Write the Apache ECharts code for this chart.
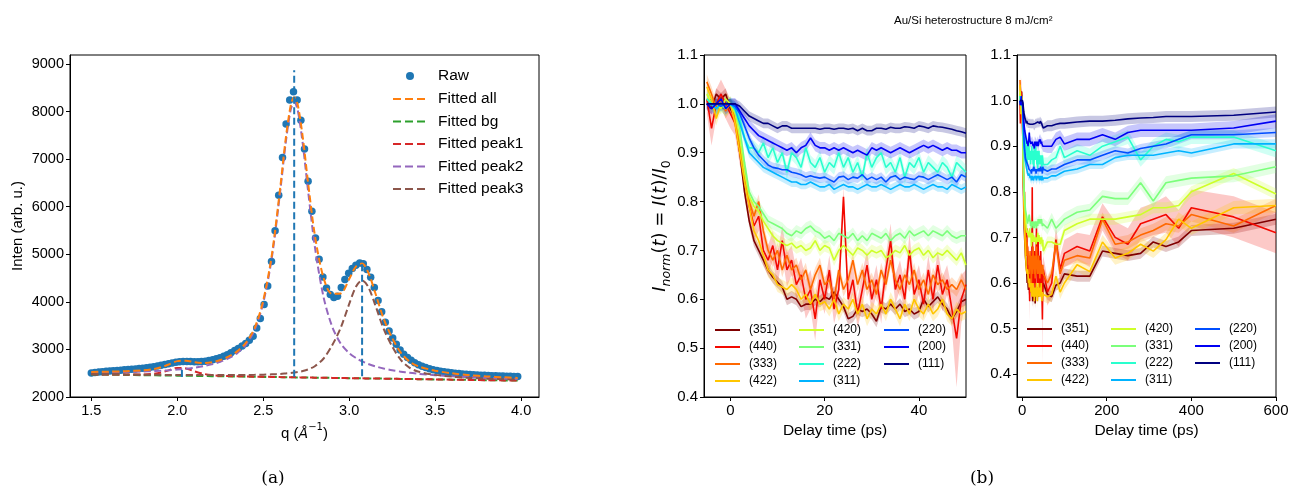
<!DOCTYPE html>
<html><head><meta charset="utf-8">
<script src="https://cdn.jsdelivr.net/npm/echarts@6/dist/echarts.min.js"></script>
<style>html,body{margin:0;padding:0;background:#fff}#c{width:1305px;height:492px}</style>
</head><body><div id="c"></div>
<script>
// ---------------- Panel (a): diffraction profile ----------------
const qRaw = [1.500,1.521,1.543,1.564,1.586,1.607,1.628,1.650,1.671,1.692,1.714,1.735,1.757,1.778,1.799,1.821,1.842,1.863,1.885,1.906,
1.928,1.949,1.970,1.992,2.013,2.034,2.056,2.077,2.099,2.120,2.141,2.163,2.184,2.206,2.227,2.248,2.270,2.291,2.312,2.334,
2.355,2.377,2.398,2.419,2.441,2.462,2.483,2.505,2.526,2.548,2.569,2.590,2.612,2.633,2.654,2.676,2.697,2.719,2.740,2.761,
2.783,2.804,2.825,2.847,2.868,2.890,2.911,2.932,2.954,2.975,2.997,3.018,3.039,3.061,3.082,3.103,3.125,3.146,3.168,3.189,
3.210,3.232,3.253,3.274,3.296,3.317,3.339,3.360,3.381,3.403,3.424,3.445,3.467,3.488,3.510,3.531,3.552,3.574,3.595,3.616,
3.638,3.659,3.681,3.702,3.723,3.745,3.766,3.787,3.809,3.830,3.852,3.873,3.894,3.916,3.937,3.958,3.980];
const rawInten = [2505,2515,2525,2533,2540,2547,2553,2559,2565,2571,2577,2583,2590,2597,2605,2614,2624,2636,2650,2665,
2682,2700,2716,2730,2740,2745,2746,2744,2742,2742,2746,2754,2766,2782,2802,2826,2856,2890,2930,2978,
3020,3070,3125,3195,3277,3452,3650,3944,4336,4849,5493,6244,7037,7737,8242,8417,8242,7820,7212,6538,
5907,5345,4897,4525,4293,4154,4091,4120,4302,4470,4600,4700,4770,4815,4800,4680,4520,4300,4030,3790,
3570,3390,3240,3110,2990,2900,2830,2770,2720,2680,2645,2618,2595,2575,2558,2543,2530,2519,2509,2500,
2492,2485,2479,2473,2468,2463,2459,2455,2451,2448,2445,2442,2440,2437,2435,2433,2431];
const qFit = [1.5,1.6,1.7,1.8,1.85,1.9,1.95,2.0,2.05,2.1,2.15,2.2,2.25,2.3,2.35,2.4,2.45,2.5,2.55,2.6,2.63,2.66,2.68,2.7,2.73,
2.76,2.8,2.85,2.9,2.95,3.0,3.04,3.075,3.11,3.15,3.2,3.25,3.3,3.35,3.4,3.5,3.6,3.7,3.8,3.9,3.98];
const fitAll = [2527,2532,2543,2560,2580,2619,2683,2754,2764,2730,2714,2731,2777,2853,2964,3144,3452,4029,4989,6436,7405,8135,8304,8155,7457,
6530,5407,4514,4169,4176,4481,4748,4808,4626,4207,3649,3241,2933,2748,2649,2553,2497,2459,2433,2414,2402];
const fitBg = [2475,2470,2465,2459,2457,2454,2451,2449,2446,2444,2441,2438,2436,2433,2430,2428,2425,2423,2420,2417,2416,2414,2413,2412,2411,
2409,2407,2404,2402,2399,2396,2394,2392,2391,2389,2386,2383,2381,2378,2375,2370,2365,2360,2354,2349,2345];
const fitPeak1 = [2477,2473,2472,2473,2483,2510,2560,2612,2601,2540,2489,2461,2447,2441,2436,2433,2428,2425,2422,2418,2417,2415,2414,2413,2412,
2410,2407,2404,2402,2399,2396,2394,2392,2391,2389,2386,2383,2381,2378,2375,2370,2365,2360,2354,2349,2345];
const fitPeak2 = [2518,2521,2527,2536,2543,2551,2561,2576,2593,2616,2646,2686,2741,2817,2926,3103,3408,3980,4930,6367,7326,8044,8203,8042,7321,
6359,5167,4114,3489,3126,2921,2818,2748,2696,2647,2599,2561,2533,2508,2489,2458,2435,2417,2401,2389,2381];
const fitPeak3 = [2482,2478,2474,2469,2468,2466,2464,2464,2462,2462,2461,2460,2461,2461,2462,2464,2466,2470,2477,2485,2494,2504,2513,2524,2546,
2579,2647,2804,3082,3449,3956,4324,4452,4321,3949,3436,3063,2781,2618,2535,2465,2427,2402,2386,2374,2366];
const peakPos = [2.027, 2.680, 3.075];
const peakLineLow = [2420, 2425, 2435];
const peakLineHigh = [2630, 8870, 4810];
const fitNames = ['Fitted all','Fitted bg','Fitted peak1','Fitted peak2','Fitted peak3'];
const qTicks = [1.5,2.0,2.5,3.0,3.5,4.0];
const intenTicks = [2000,3000,4000,5000,6000,7000,8000,9000];

// ---------------- Panel (b): normalized intensities ----------------
const hkl = ['(351)','(440)','(333)','(422)','(420)','(331)','(222)','(311)','(220)','(200)','(111)'];
const tShort = [-5,-4,-3,-2,-1,0,1,2,3,4,5,6,7,8,9,10,11,12,13,14,15,16,17,18,19,20,21,22,23,24,25,26,27,28,29,30,31,32,33,34,35,36,37,38,39,40,41,42,43,44,45,46,47,48,49,50];
const short351 = [1.00,0.99,1.02,1.01,1.02,0.99, 0.97,0.90,0.82,0.76,0.72,0.70,0.68,0.66,0.645,0.635, 0.625,0.60,0.605,0.60,0.585,0.59,0.59,0.60,0.595,0.605, 0.60,0.615,0.60,0.585,0.56,0.565,0.58,0.575,0.58,0.57, 0.555,0.585,0.58,0.59,0.58,0.59,0.575,0.58,0.57,0.575, 0.60,0.585,0.595,0.605,0.59,0.58,0.56,0.575,0.595,0.60];
const short440 = [1.01,0.95,1.00,1.02,1.00,0.98, 0.96,0.90,0.85,0.79,0.75,0.77,0.70,0.68,0.71,0.66, 0.72,0.66,0.68,0.63,0.65,0.60,0.62,0.56,0.64,0.60, 0.66,0.58,0.62,0.81,0.60,0.64,0.57,0.62,0.67,0.60, 0.64,0.58,0.66,0.72,0.62,0.65,0.60,0.70,0.61,0.64, 0.59,0.66,0.60,0.67,0.61,0.64,0.58,0.52,0.60,0.63];
const short333 = [1.045,1.02,0.99,1.01,0.985,1.00, 0.97,0.92,0.86,0.80,0.77,0.80,0.74,0.70,0.68,0.70, 0.66,0.69,0.66,0.67,0.64,0.66,0.62,0.65,0.67,0.63, 0.64,0.60,0.66,0.62,0.64,0.68,0.63,0.66,0.62,0.64, 0.61,0.66,0.63,0.68,0.64,0.62,0.65,0.63,0.66,0.62, 0.64,0.61,0.65,0.63,0.64,0.62,0.63,0.62,0.64,0.62];
const short422 = [1.035,1.01,0.97,1.00,0.99,1.00, 0.96,0.90,0.84,0.79,0.74,0.72,0.69,0.66,0.65,0.63, 0.625,0.62,0.63,0.62,0.60,0.61,0.59,0.61,0.59,0.595, 0.58,0.60,0.57,0.59,0.58,0.60,0.57,0.59,0.56,0.58, 0.57,0.59,0.57,0.60,0.58,0.56,0.59,0.57,0.60,0.58, 0.57,0.59,0.57,0.58,0.60,0.57,0.56,0.58,0.57,0.575];
const short420 = [1.02,1.00,1.00,0.99,1.01,1.00, 0.98,0.93,0.86,0.81,0.79,0.78,0.76,0.745,0.73,0.72, 0.715,0.71,0.715,0.705,0.71,0.70,0.705,0.72,0.70,0.71, 0.705,0.68,0.70,0.71,0.70,0.69,0.705,0.70,0.69,0.70, 0.695,0.70,0.685,0.69,0.70,0.695,0.71,0.69,0.70,0.705, 0.69,0.70,0.685,0.695,0.69,0.70,0.69,0.68,0.695,0.67];
const short331 = [1.01,1.00,0.99,1.00,1.00,1.00, 0.985,0.95,0.88,0.82,0.80,0.79,0.775,0.76,0.755,0.75, 0.745,0.735,0.73,0.74,0.735,0.745,0.75,0.74,0.735,0.725, 0.73,0.72,0.735,0.73,0.725,0.735,0.72,0.73,0.72,0.735, 0.73,0.725,0.735,0.72,0.73,0.735,0.725,0.74,0.73,0.735, 0.74,0.73,0.74,0.735,0.73,0.74,0.73,0.725,0.73,0.73];
const short222 = [1.01,1.00,0.99,1.00,0.99,1.00, 0.99,0.97,0.93,0.91,0.91,0.90,0.92,0.89,0.91,0.88, 0.90,0.86,0.90,0.89,0.87,0.91,0.88,0.87,0.89,0.86, 0.88,0.87,0.90,0.87,0.89,0.86,0.88,0.85,0.90,0.87, 0.89,0.90,0.87,0.88,0.86,0.89,0.85,0.88,0.87,0.89, 0.86,0.88,0.87,0.86,0.88,0.87,0.85,0.88,0.87,0.86];
const short311 = [1.00,1.00,0.99,1.00,1.00,1.00, 0.99,0.96,0.93,0.90,0.89,0.88,0.87,0.865,0.86,0.855, 0.85,0.845,0.84,0.84,0.835,0.835,0.84,0.835,0.83,0.83, 0.835,0.825,0.83,0.835,0.83,0.83,0.825,0.83,0.835,0.83, 0.83,0.835,0.83,0.825,0.83,0.835,0.83,0.83,0.835,0.83, 0.825,0.83,0.835,0.83,0.83,0.825,0.835,0.83,0.825,0.83];
const short220 = [1.00,1.00,1.00,0.995,1.00,1.00, 0.995,0.98,0.955,0.93,0.91,0.895,0.885,0.875,0.87,0.868, 0.865,0.865,0.86,0.858,0.855,0.85,0.853,0.85,0.848,0.85, 0.845,0.84,0.85,0.852,0.845,0.85,0.848,0.855,0.845,0.85, 0.845,0.85,0.84,0.85,0.853,0.845,0.85,0.847,0.845,0.852, 0.85,0.845,0.85,0.855,0.85,0.845,0.85,0.84,0.855,0.85];
const short200 = [1.00,0.99,1.00,1.01,0.99,1.00, 1.00,0.985,0.97,0.955,0.945,0.935,0.93,0.925,0.92,0.915, 0.91,0.905,0.91,0.90,0.91,0.915,0.93,0.915,0.91,0.91, 0.905,0.91,0.905,0.91,0.905,0.90,0.905,0.90,0.895,0.91, 0.905,0.91,0.905,0.90,0.905,0.91,0.905,0.90,0.905,0.91, 0.915,0.91,0.915,0.91,0.905,0.91,0.905,0.905,0.90,0.90];
const short111 = [1.00,1.00,1.00,1.00,1.00,1.00, 1.00,0.995,0.985,0.975,0.97,0.965,0.96,0.96,0.955,0.95, 0.955,0.955,0.95,0.95,0.95,0.95,0.95,0.95,0.948,0.95, 0.95,0.948,0.95,0.95,0.948,0.95,0.945,0.95,0.945,0.945, 0.95,0.95,0.948,0.952,0.95,0.95,0.953,0.952,0.95,0.955, 0.953,0.95,0.955,0.953,0.952,0.95,0.948,0.945,0.943,0.94];
const tLong = [60,70,80,90,100,130,160,190,220,250,280,310,340,370,400,500,600];
const long351 = [0.575,0.57,0.595,0.60,0.62,0.615,0.615,0.67,0.665,0.66,0.665,0.69,0.68,0.69,0.715,0.72,0.74];
const long440 = [0.58,0.60,0.695,0.63,0.665,0.68,0.67,0.745,0.70,0.685,0.73,0.74,0.75,0.72,0.765,0.745,0.71];
const long333 = [0.60,0.62,0.69,0.62,0.65,0.66,0.655,0.74,0.685,0.69,0.705,0.715,0.73,0.725,0.75,0.725,0.77];
const long422 = [0.57,0.575,0.615,0.58,0.60,0.64,0.625,0.69,0.655,0.665,0.685,0.67,0.695,0.74,0.72,0.765,0.77];
const long420 = [0.69,0.69,0.685,0.685,0.715,0.73,0.74,0.74,0.74,0.745,0.75,0.765,0.765,0.77,0.80,0.84,0.795];
const long331 = [0.72,0.74,0.72,0.73,0.74,0.755,0.76,0.79,0.785,0.785,0.82,0.78,0.82,0.825,0.83,0.835,0.855];
const long222 = [0.86,0.87,0.875,0.90,0.875,0.89,0.88,0.90,0.91,0.92,0.87,0.90,0.915,0.91,0.92,0.92,0.89];
const long311 = [0.83,0.835,0.835,0.84,0.845,0.85,0.86,0.86,0.875,0.88,0.88,0.88,0.885,0.89,0.885,0.905,0.905];
const long220 = [0.845,0.85,0.85,0.855,0.86,0.87,0.87,0.88,0.89,0.885,0.895,0.90,0.905,0.915,0.925,0.925,0.93];
const long200 = [0.90,0.90,0.915,0.92,0.905,0.915,0.915,0.925,0.915,0.93,0.935,0.935,0.935,0.935,0.935,0.94,0.955];
const long111 = [0.945,0.945,0.948,0.95,0.95,0.953,0.955,0.955,0.957,0.96,0.962,0.963,0.965,0.965,0.965,0.968,0.975];
// band half-widths (std) per series; (440) has its own arrays
const errShort = [0.012,0.03,0.015,0.015,0.012,0.012,0.015,0.01,0.01,0.012,0.01];
const errLong  = [0.012,0.03,0.015,0.015,0.012,0.014,0.015,0.01,0.01,0.015,0.012];
const err440Short = [0.03,0.035,0.03,0.03,0.03,0.03, 0.025,0.025,0.025,0.025,0.03,0.03,0.03,0.03,0.03,0.035, 0.03,0.035,0.03,0.03,0.035,0.04,0.04,0.045,0.035,0.03, 0.03,0.03,0.03,0.02,0.03,0.03,0.03,0.035,0.03,0.03, 0.03,0.03,0.03,0.035,0.03,0.03,0.03,0.035,0.03,0.03, 0.03,0.03,0.03,0.03,0.035,0.03,0.04,0.1,0.05,0.03];
const err440Long = [0.03,0.03,0.03,0.03,0.03,0.03,0.035,0.03,0.035,0.035,0.035,0.035,0.04,0.04,0.04,0.045,0.045];
const delayTicksShort = [0,20,40];
const delayTicksLong = [0,200,400,600];
const normTicksA = [0.4,0.5,0.6,0.7,0.8,0.9,1.0,1.1];
const normTicksB = [0.4,0.5,0.6,0.7,0.8,0.9,1.0,1.1];

// ---------------- build ----------------
const shortVals = [short351,short440,short333,short422,short420,short331,short222,short311,short220,short200,short111];
const longVals  = [long351,long440,long333,long422,long420,long331,long222,long311,long220,long200,long111];
const jet = ['#800000','#f30900','#ff6800','#ffc600','#ceff29','#7bff7b','#29ffce','#00b3ff','#004dff','#0000f3','#000080'];
const tab = {blue:'#1f77b4',orange:'#ff7f0e',green:'#2ca02c',red:'#d62728',purple:'#9467bd',brown:'#8c564b'};
const FONT = 'Liberation Sans, Arial, sans-serif';

function pairs(xs, ys){ return xs.map((x,i)=>[x, ys[i]]); }

function band(ax, ts, ys, es, color){
  return {type:'custom', xAxisIndex:ax, yAxisIndex:ax, clip:true, silent:true, z:1,
    data:[[ts[0], ys[0]]],
    renderItem:function(params, api){
      if (params.dataIndex !== 0) return null;
      const pts = [];
      for (let i=0;i<ts.length;i++) pts.push(api.coord([ts[i], ys[i]+es[i]]));
      for (let i=ts.length-1;i>=0;i--) pts.push(api.coord([ts[i], ys[i]-es[i]]));
      return {type:'polygon', shape:{points:pts}, style:{fill:color, opacity:0.22}};
    }};
}

const series = [];
// Panel a
series.push({type:'scatter', name:'Raw', xAxisIndex:0, yAxisIndex:0, data:pairs(qRaw, rawInten),
  symbol:'circle', symbolSize:7.5, itemStyle:{color:tab.blue, opacity:1}, z:2});
const fitData = [fitAll, fitBg, fitPeak1, fitPeak2, fitPeak3];
const fitColors = [tab.orange, tab.green, tab.red, tab.purple, tab.brown];
fitData.forEach((arr,i)=>{
  series.push({type:'line', name:fitNames[i], xAxisIndex:0, yAxisIndex:0, data:pairs(qFit, arr),
    symbol:'none', smooth:0.3, lineStyle:{color:fitColors[i], width:2, type:[7,3.5]}, itemStyle:{color:fitColors[i]}, z:4+(i===0?1:0)});
});
peakPos.forEach((q,i)=>{
  series.push({type:'line', xAxisIndex:0, yAxisIndex:0, data:[[q, peakLineLow[i]],[q, peakLineHigh[i]]],
    symbol:'none', lineStyle:{color:tab.blue, width:2, type:[7,3.5]}, z:6, silent:true});
});
// Panel b bands
hkl.forEach((n,i)=>{
  const es = i===1 ? err440Short : tShort.map(()=>errShort[i]);
  series.push(band(1, tShort, shortVals[i], es, jet[i]));
  const tAll = tShort.concat(tLong);
  const yAll = shortVals[i].concat(longVals[i]);
  const el = i===1 ? err440Long : tLong.map(()=>errLong[i]);
  series.push(band(2, tAll, yAll, es.concat(el), jet[i]));
});
// Panel b lines
hkl.forEach((n,i)=>{
  series.push({type:'line', name:n, xAxisIndex:1, yAxisIndex:1, data:pairs(tShort, shortVals[i]),
    symbol:'none', lineStyle:{color:jet[i], width:1.6}, itemStyle:{color:jet[i]}, z:3});
  series.push({type:'line', name:n, xAxisIndex:2, yAxisIndex:2, data:pairs(tShort.concat(tLong), shortVals[i].concat(longVals[i])),
    symbol:'none', lineStyle:{color:jet[i], width:1.6}, itemStyle:{color:jet[i]}, z:3});
});

const axisCommon = {
  axisLine:{show:true, onZero:false, lineStyle:{color:'#000', width:1}},
  splitLine:{show:false},
};
function xAx(grid, min, max, ticks, fmt, name, nameGap, fs, nameRich){
  return Object.assign({}, axisCommon, {type:'value', gridIndex:grid, min, max, name, nameLocation:'middle', nameGap,
    nameTextStyle:Object.assign({fontFamily:FONT, fontSize:fs+0.5, color:'#000'}, nameRich?{rich:nameRich}:{}),
    axisTick:{show:true, inside:false, length:4, customValues:ticks, lineStyle:{color:'#000'}},
    axisLabel:{show:true, customValues:ticks, formatter:fmt, margin:6, color:'#000', fontFamily:FONT, fontSize:fs}});
}
function yAx(grid, min, max, ticks, fmt, name, nameGap, fs, nameRich){
  return Object.assign({}, axisCommon, {type:'value', gridIndex:grid, min, max, name, nameLocation:'middle', nameGap, nameRotate:90,
    nameTextStyle:Object.assign({fontFamily:FONT, fontSize:fs+0.5, color:'#000'}, nameRich?{rich:nameRich}:{}),
    axisTick:{show:true, inside:false, length:4, customValues:ticks, lineStyle:{color:'#000'}},
    axisLabel:{show:true, customValues:ticks, formatter:fmt, margin:6, color:'#000', fontFamily:FONT, fontSize:fs}});
}
const f1 = v => Number(v).toFixed(1);
const f0 = v => String(Math.round(v));

const mathFont = 'DejaVu Sans, sans-serif';
const qRich = {
  r:{fontFamily:FONT, fontSize:15, color:'#000', lineHeight:22},
  i:{fontFamily:mathFont, fontStyle:'italic', fontSize:14, color:'#000', lineHeight:22},
  sup:{fontFamily:mathFont, fontSize:10, color:'#000', verticalAlign:'top', lineHeight:10}
};
const normRich = {
  i:{fontFamily:mathFont, fontStyle:'italic', fontSize:18, color:'#000', lineHeight:26},
  r:{fontFamily:mathFont, fontSize:18, color:'#000', lineHeight:26},
  s:{fontFamily:mathFont, fontStyle:'italic', fontSize:12.5, color:'#000', verticalAlign:'bottom', lineHeight:12},
  s0:{fontFamily:mathFont, fontSize:12.5, color:'#000', verticalAlign:'bottom', lineHeight:12}
};

function legendCol(names, left, top){
  return {show:true, orient:'vertical', left, top, padding:0, data:names.map(n=>({name:n, icon:'rect'})),
    itemWidth:25, itemHeight:2, itemGap:5, selectedMode:false,
    textStyle:{fontFamily:FONT, fontSize:12, color:'#000', lineHeight:12, padding:[0,0,0,4]}};
}
const dashIcon = 'path://M0,0h8v2h-8z M12,0h8v2h-8z M24,0h8v2h-8z';

const option = {
  animation:false,
  backgroundColor:'#fff',
  title:[
    {text:'Au/Si heterostructure 8 mJ/cm\u00b2', left:889, top:10, textStyle:{fontFamily:FONT, fontSize:11.5, fontWeight:'normal', color:'#000'}},
    {text:'(a)', left:268, top:465, textAlign:'center', textStyle:{fontFamily:'DejaVu Serif, serif', fontSize:17, fontWeight:'normal', color:'#000'}},
    {text:'(b)', left:977, top:465, textAlign:'center', textStyle:{fontFamily:'DejaVu Serif, serif', fontSize:17, fontWeight:'normal', color:'#000'}}
  ],
  grid:[
    {left:70, top:55, width:469, height:342, show:true, borderColor:'#000', borderWidth:1, backgroundColor:'transparent'},
    {left:704, top:55, width:262, height:342, show:true, borderColor:'#000', borderWidth:1, backgroundColor:'transparent'},
    {left:1017, top:55, width:259, height:342, show:true, borderColor:'#000', borderWidth:1, backgroundColor:'transparent'}
  ],
  xAxis:[
    xAx(0, 1.376, 4.104, qTicks, f1, '{r|q (}{i|Å}{sup|\u22121}{r|)}', 24, 14.5, qRich),
    xAx(1, -5.6, 50, delayTicksShort, f0, 'Delay time (ps)', 22, 15),
    xAx(2, -12, 600, delayTicksLong, f0, 'Delay time (ps)', 22, 15)
  ],
  yAxis:[
    yAx(0, 2000, 9190, intenTicks, f0, 'Inten (arb. u.)', 45, 14.5),
    yAx(1, 0.4, 1.1, normTicksA, f1, '{i|I}{s|norm}{r|(}{i|t}{r|) = }{i|I}{r|(}{i|t}{r|)/}{i|I}{s0|0}', 27, 15, normRich),
    yAx(2, 0.35, 1.1, normTicksB, f1, '', 30, 15)
  ],
  legend:[
    {show:true, orient:'vertical', left:406, top:68, padding:0, data:[{name:'Raw', icon:'circle'}], itemWidth:8, itemHeight:8, selectedMode:false,
      textStyle:{fontFamily:FONT, fontSize:15.5, color:'#000', lineHeight:16, padding:[0,0,0,19]}},
    {show:true, orient:'vertical', left:393, top:91, padding:0, data:fitNames.map(n=>({name:n, icon:dashIcon})), itemWidth:32, itemHeight:2, itemGap:6.5, selectedMode:false,
      textStyle:{fontFamily:FONT, fontSize:15.5, color:'#000', lineHeight:16, padding:[0,0,0,8]}},
    legendCol(hkl.slice(0,4), 715, 324), legendCol(hkl.slice(4,8), 799, 324), legendCol(hkl.slice(8,11), 884, 324),
    legendCol(hkl.slice(0,4), 1027, 323), legendCol(hkl.slice(4,8), 1111, 323), legendCol(hkl.slice(8,11), 1195, 323)
  ],
  series
};
const chart = echarts.init(document.getElementById('c'), null, {renderer:'canvas'});
chart.setOption(option);
</script>
</body></html>
